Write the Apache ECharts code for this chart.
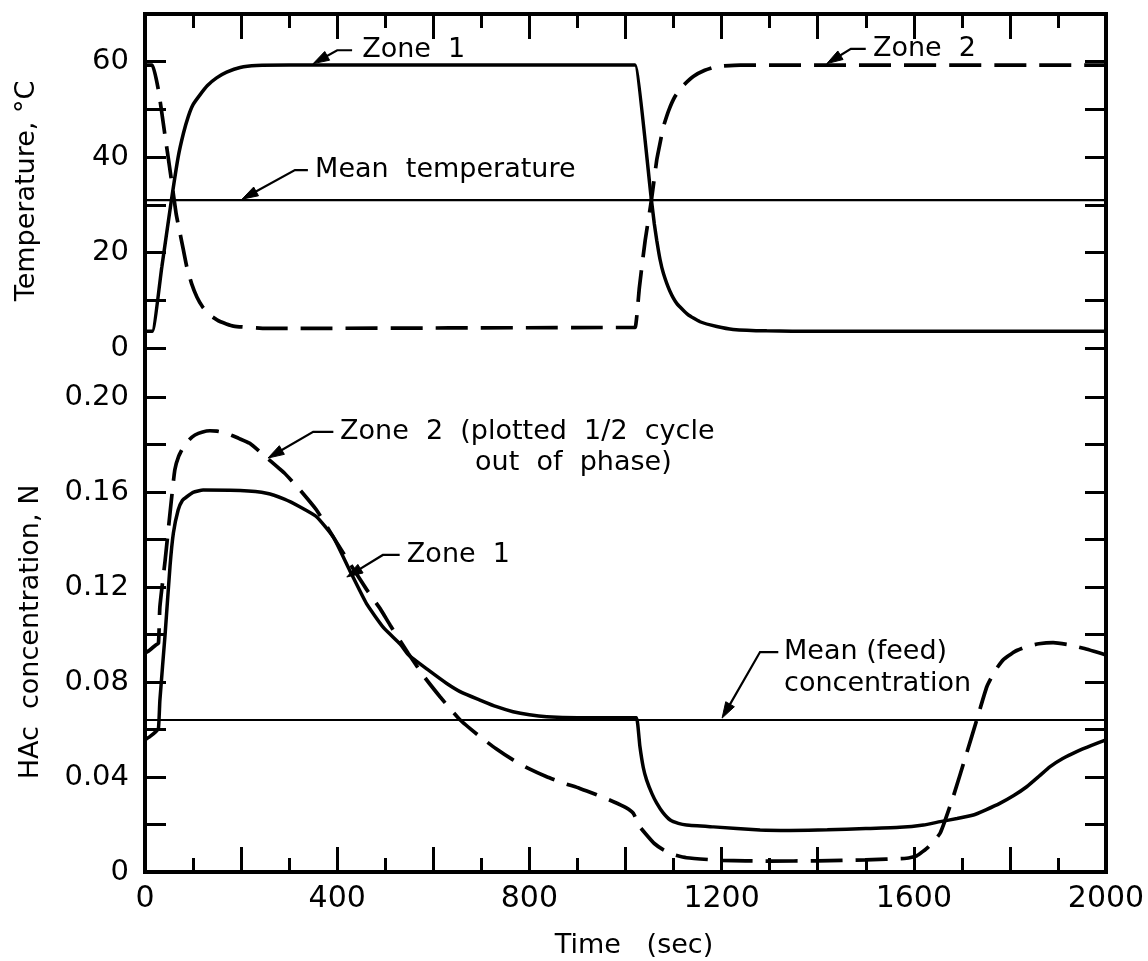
<!DOCTYPE html>
<html><head><meta charset="utf-8">
<script src="https://cdn.jsdelivr.net/npm/echarts@6/dist/echarts.min.js"></script>
<style>html,body{margin:0;padding:0;background:#fff}#c{width:1148px;height:961px}</style>
</head><body><div id="c"></div>
<script>
// ---- data ----
const zone1TempTime = [0,15,35,55,69,80,90,100,114,130,149,170,198,232,300,1012,1020,1054,1060,1065,1072,1079,1092,1107,1130,1155,1190,1224,1294,1400,2000];
const zone1Temp     = [3.5,3.5,17,31,40,45,48.5,51,53,55,56.6,57.8,58.8,59.2,59.3,59.3,59.3,31,26,22.6,18.5,15.6,12,9.3,7,5.5,4.5,3.9,3.6,3.5,3.5];
const zone2TempTime = [0,15,28,42,55,65,73,80,87,97,108,120,135,155,184,253,1012,1020,1029,1041,1054,1065,1072,1079,1090,1103,1120,1141,1165,1190,1239,2000];
const zone2Temp     = [59.3,59.3,54,44.3,35.2,28,24,20.5,17,13.5,10.7,8.6,6.9,5.6,4.6,4.1,4.3,4.3,12.8,22.6,31,39.4,43,46.4,49.8,52.7,55,56.9,58.2,59,59.3,59.3];
const meanTemp = 31;

const zone1HAcTime = [0,10,22,28,31,42,52,59,69,78,87,100,121,198,253,290,322,357,392,426,461,496,531,548,590,628,660,697,730,766,800,836,900,1015,1023,1030,1037,1044,1055,1065,1078,1093,1110,1127,1183,1280,1342,1420,1500,1571,1620,1655,1690,1724,1750,1779,1808,1835,1860,1883,1910,1939,1970,2000];
const zone1HAc     = [0.0556,0.057,0.059,0.0605,0.0724,0.1005,0.1286,0.1426,0.1524,0.1565,0.158,0.1598,0.1608,0.1606,0.1595,0.157,0.1538,0.1496,0.141,0.127,0.113,0.103,0.096,0.0915,0.085,0.0794,0.0755,0.0724,0.0697,0.0675,0.0662,0.0654,0.065,0.065,0.065,0.0528,0.044,0.0387,0.033,0.029,0.025,0.0219,0.0205,0.0198,0.019,0.0177,0.0175,0.0178,0.0183,0.0188,0.0198,0.0212,0.0225,0.024,0.0262,0.0289,0.0322,0.0359,0.0402,0.0443,0.0478,0.0507,0.0533,0.0556];
const zone2HAcTime = [0,10,22,28,31,42,52,62,70,80,92,104,120,135,150,170,195,218,253,290,322,357,392,426,461,489,510,548,580,614,656,697,730,766,800,836,870,905,940,975,1000,1016,1030,1044,1060,1079,1100,1127,1200,1300,1400,1500,1585,1606,1630,1655,1682,1710,1731,1752,1770,1786,1810,1835,1860,1890,1920,1953,2000];
const zone2HAc     = [0.0921,0.0935,0.0955,0.0963,0.1117,0.1314,0.151,0.1693,0.175,0.179,0.182,0.184,0.1853,0.1858,0.1856,0.1847,0.1826,0.1805,0.1745,0.168,0.161,0.1524,0.141,0.130,0.119,0.111,0.104,0.092,0.0825,0.0738,0.064,0.057,0.052,0.0472,0.0434,0.0401,0.0375,0.0352,0.0325,0.0296,0.0272,0.0248,0.019,0.0156,0.012,0.0093,0.0073,0.006,0.0049,0.0046,0.0047,0.0051,0.0058,0.0068,0.0105,0.0164,0.0317,0.050,0.064,0.078,0.085,0.0893,0.0928,0.0949,0.0961,0.0966,0.0958,0.0942,0.0914];
const meanHAc = 0.064;

const timeRange = [0, 2000];
const tempRange = [0, 70];
const hacRange = [0, 0.20];
const timeLabelStep = 400;
const tempLabelStep = 20;
const hacLabelStepPct = 4;

// ---- helpers ----
const zip = (a, b) => a.map((v, i) => [v, b[i]]);
const FONT = "'DejaVu Sans', sans-serif";
const BLACK = '#000';

const chart = echarts.init(document.getElementById('c'), null, {renderer: 'canvas'});

const tickStyle = {color: BLACK, width: 3};
function xAxisCfg(grid, pos, showLabel) {
  return {
    type: 'value', gridIndex: grid, position: pos, min: timeRange[0], max: timeRange[1], interval: 200,
    axisLine: {show: false, onZero: false},
    axisTick: {show: true, inside: true, length: 25, lineStyle: tickStyle},
    minorTick: {show: true, splitNumber: 2, length: 14, lineStyle: tickStyle},
    splitLine: {show: false}, minorSplitLine: {show: false},
    axisLabel: {show: showLabel, margin: 12, color: BLACK, fontFamily: FONT, fontSize: 30,
      formatter: v => (Math.round(v) % timeLabelStep === 0 ? String(Math.round(v)) : '')}
  };
}
function yAxisCfg(grid, pos, range, step, showLabel, fmt) {
  return {
    type: 'value', gridIndex: grid, position: pos, min: range[0], max: range[1], interval: step,
    axisLine: {show: false, onZero: false},
    axisTick: {show: true, inside: true, length: 21, lineStyle: tickStyle},
    splitLine: {show: false},
    axisLabel: {show: showLabel, margin: 16, color: BLACK, fontFamily: FONT, fontSize: 29, formatter: fmt}
  };
}
const tempFmt = v => (Math.round(v) % tempLabelStep === 0 ? String(Math.round(v)) : '');
const hacFmt = v => { const k = Math.round(v * 100); if (k % hacLabelStepPct !== 0) return ''; return k === 0 ? '0' : (k / 100).toFixed(2); };

const solid = {color: BLACK, width: 3.5};
const dashed = {color: BLACK, width: 3.7, type: [32, 13]};
const thin = {color: BLACK, width: 2.2};
const SM = 0.15;

const option = {
  backgroundColor: '#fff',
  animation: false,
  grid: [
    {left: 145, top: 14, width: 961, height: 334, show: false, outerBoundsMode: 'none'},
    {left: 145, top: 397, width: 961, height: 475, show: false, outerBoundsMode: 'none'},
    {left: 145, top: 14, width: 961, height: 858, show: true, borderColor: BLACK, borderWidth: 4, backgroundColor: 'transparent', outerBoundsMode: 'none'}
  ],
  xAxis: [
    xAxisCfg(0, 'top', false),
    xAxisCfg(1, 'bottom', true),
    {type: 'value', gridIndex: 2, min: 0, max: 1, show: false}
  ],
  yAxis: [
    yAxisCfg(0, 'left', tempRange, 10, true, tempFmt),
    yAxisCfg(0, 'right', tempRange, 10, false, tempFmt),
    yAxisCfg(1, 'left', hacRange, 0.02, true, hacFmt),
    yAxisCfg(1, 'right', hacRange, 0.02, false, hacFmt),
    {type: 'value', gridIndex: 2, min: 0, max: 1, show: false}
  ],
  series: [
    {name: 'Zone 1 temperature', type: 'line', xAxisIndex: 0, yAxisIndex: 0, data: zip(zone1TempTime, zone1Temp),
      showSymbol: false, smooth: SM, lineStyle: solid},
    {name: 'Zone 2 temperature', type: 'line', xAxisIndex: 0, yAxisIndex: 0, data: zip(zone2TempTime, zone2Temp),
      showSymbol: false, smooth: SM, lineStyle: dashed},
    {name: 'Mean temperature', type: 'line', xAxisIndex: 0, yAxisIndex: 0, data: [[timeRange[0], meanTemp], [timeRange[1], meanTemp]],
      showSymbol: false, lineStyle: thin},
    {name: 'Zone 1 HAc', type: 'line', xAxisIndex: 1, yAxisIndex: 2, data: zip(zone1HAcTime, zone1HAc),
      showSymbol: false, smooth: SM, lineStyle: solid},
    {name: 'Zone 2 HAc', type: 'line', xAxisIndex: 1, yAxisIndex: 2, data: zip(zone2HAcTime, zone2HAc),
      showSymbol: false, smooth: SM, lineStyle: dashed},
    {name: 'Mean HAc', type: 'line', xAxisIndex: 1, yAxisIndex: 2, data: [[timeRange[0], meanHAc], [timeRange[1], meanHAc]],
      showSymbol: false, lineStyle: thin}
  ]
};
chart.setOption(option);

// ---- annotations (anchored in data coordinates) ----
const notes = [
  {g: 0, lines: ['Zone  1'], at: [452, 62.4], lead: [[431, 62.4], [400, 62.4], [350, 59.6]]},
  {g: 0, lines: ['Mean  temperature'], at: [354, 37.3], lead: [[339, 37.3], [312, 37.3], [202, 31.2]]},
  {g: 0, lines: ['Zone  2'], at: [1515, 62.7], lead: [[1500, 62.7], [1469, 62.7], [1419, 59.6]]},
  {g: 1, lines: ['Zone  2  (plotted  1/2  cycle'], at: [406, 0.1853], lead: [[392, 0.1853], [350, 0.1853], [256, 0.1743]]},
  {g: 1, lines: ['out  of  phase)'], at: [687, 0.1722], lead: null},
  {g: 1, lines: ['Zone  1'], at: [545, 0.1335], lead: [[530, 0.1335], [495, 0.1335], [420, 0.1242]]},
  {g: 1, lines: ['Mean (feed)'], at: [1330, 0.0926], lead: [[1318, 0.0926], [1280, 0.0926], [1201, 0.0648]]},
  {g: 1, lines: ['concentration'], at: [1330, 0.0792], lead: null}
];
const px = (g, p) => chart.convertToPixel({gridIndex: g}, p);
const TXT = '27px ' + FONT;
const elements = [];
notes.forEach(n => {
  const a = px(n.g, n.at);
  elements.push({type: 'text', z: 100, style: {text: n.lines.join('\n'), x: a[0], y: a[1], fill: BLACK,
    font: TXT, align: 'left', verticalAlign: 'middle', textAlign: 'left', textVerticalAlign: 'middle'}});
  if (n.lead) {
    const pts = n.lead.map(p => px(n.g, p));
    const tip = pts[pts.length - 1], prev = pts[pts.length - 2];
    let dx = tip[0] - prev[0], dy = tip[1] - prev[1];
    const L = Math.hypot(dx, dy); dx /= L; dy /= L;
    const hl = 16, hw = 5;
    const bx = tip[0] - dx * hl, by = tip[1] - dy * hl;
    const shaft = pts.slice(0, -1).concat([[tip[0] - dx * 6, tip[1] - dy * 6]]);
    elements.push({type: 'polyline', z: 100, shape: {points: shaft}, style: {stroke: BLACK, lineWidth: 2.2, fill: null}});
    elements.push({type: 'polygon', z: 100, shape: {points: [tip, [bx - dy * hw, by + dx * hw], [bx + dy * hw, by - dx * hw]]},
      style: {fill: BLACK, stroke: BLACK, lineWidth: 1}});
  }
});
// axis titles
elements.push({type: 'text', z: 100, x: 27, y: 191, rotation: Math.PI / 2,
  style: {text: 'Temperature, °C', fill: BLACK, font: TXT, align: 'center', verticalAlign: 'middle', textAlign: 'center', textVerticalAlign: 'middle'}});
elements.push({type: 'text', z: 100, x: 31, y: 632, rotation: Math.PI / 2,
  style: {text: 'HAc  concentration, N', fill: BLACK, font: TXT, align: 'center', verticalAlign: 'middle', textAlign: 'center', textVerticalAlign: 'middle'}});
elements.push({type: 'text', z: 100, x: 634, y: 946,
  style: {text: 'Time   (sec)', fill: BLACK, font: TXT, align: 'center', verticalAlign: 'middle', textAlign: 'center', textVerticalAlign: 'middle'}});
chart.setOption({graphic: {elements: elements}});
</script>
</body></html>
